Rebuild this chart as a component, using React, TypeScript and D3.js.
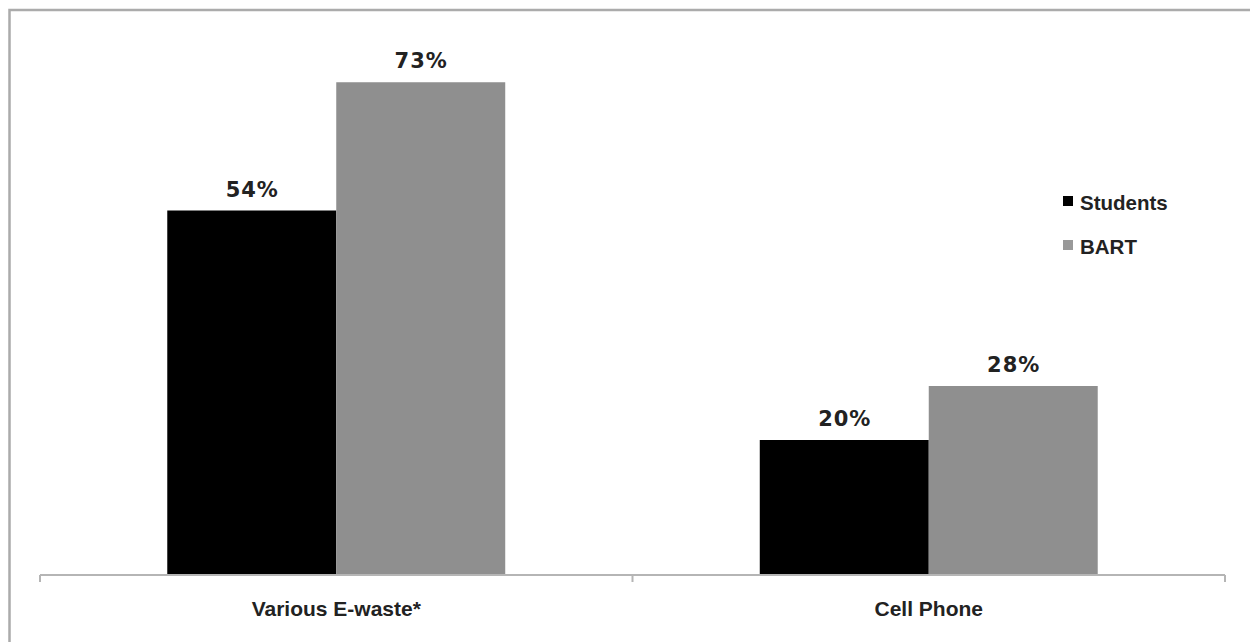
import React from "react";
import * as d3 from "d3";

const categories = ["Various E-waste*", "Cell Phone"];
const seriesNames = ["Students", "BART"];
const studentsValues = [54, 20];
const bartValues = [73, 28];
const seriesColors = ["#000000", "#8f8f8f"];
const legendColors = ["#000000", "#999999"];

const W = 1250;
const H = 642;

export default function App() {
  const x = d3.scaleBand<string>().domain(categories).range([40, 1225]).padding(0);
  const bw = x.bandwidth();
  const xs = d3
    .scaleBand<string>()
    .domain(seriesNames)
    .range([bw * 0.2148, bw * 0.7852])
    .padding(0);
  const y = d3.scaleLinear().domain([0, 80]).range([575, 35]);
  const values = [studentsValues, bartValues];

  const ticks = [40, ...categories.map((c) => (x(c) as number) + bw)];

  return (
    <svg
      width={W}
      height={H}
      style={{ position: "absolute", left: 0, top: 0, background: "#fff" }}
    >
      <rect x={9.5} y={10} width={1300} height={700} fill="#fff" stroke="#ababab" strokeWidth={2.5} />
      {categories.map((c, ci) => (
        <g key={c} transform={`translate(${x(c)},0)`}>
          {seriesNames.map((s, si) => {
            const v = values[si][ci];
            const bx = xs(s) as number;
            return (
              <g key={s}>
                <rect
                  x={bx}
                  y={y(v)}
                  width={xs.bandwidth()}
                  height={y(0) - y(v)}
                  fill={seriesColors[si]}
                />
                <text
                  x={bx + xs.bandwidth() / 2 + 0.5}
                  y={y(v) - 14}
                  textAnchor="middle"
                  fontFamily="DejaVu Sans"
                  fontWeight="bold"
                  fontSize={21}
                  letterSpacing={1}
                  fill="#222"
                >
                  {`${v}%`}
                </text>
              </g>
            );
          })}
          <text
            x={bw / 2}
            y={616}
            textAnchor="middle"
            fontFamily="Liberation Sans, Arial, sans-serif"
            fontWeight="bold"
            fontSize={21}
            fill="#222"
          >
            {c}
          </text>
        </g>
      ))}
      <line x1={40} x2={1225} y1={y(0)} y2={y(0)} stroke="#b5b5b5" strokeWidth={2} />
      {ticks.map((t, i) => (
        <line key={i} x1={t} x2={t} y1={y(0)} y2={y(0) + 7} stroke="#b5b5b5" strokeWidth={2} />
      ))}
      {seriesNames.map((s, si) => (
        <g key={s} transform={`translate(1063,${196 + si * 44})`}>
          <rect x={0} y={0} width={10} height={10} fill={legendColors[si]} />
          <text
            x={17}
            y={14}
            fontFamily="Liberation Sans, Arial, sans-serif"
            fontWeight="bold"
            fontSize={20.5}
            fill="#222"
          >
            {s}
          </text>
        </g>
      ))}
    </svg>
  );
}
